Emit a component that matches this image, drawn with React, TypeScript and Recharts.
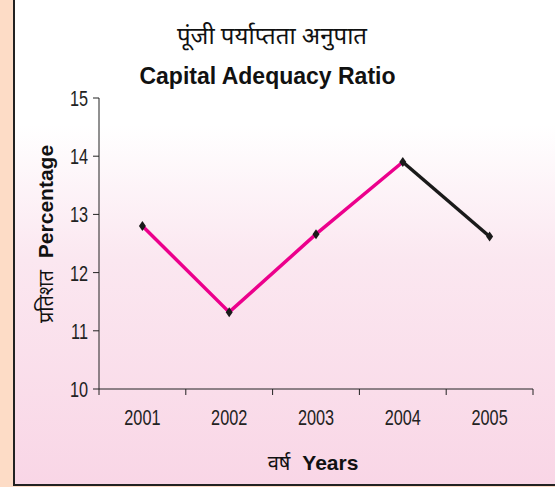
import React from 'react';
import { LineChart, Line, XAxis, YAxis } from 'recharts';

const years = ['2001', '2002', '2003', '2004', '2005'];
const ratioValues = [12.8, 11.32, 12.66, 13.9, 12.62];
const yTicks = [10, 11, 12, 13, 14, 15];
const titleHindi = 'पूंजी पर्याप्तता अनुपात';
const titleEnglish = 'Capital Adequacy Ratio';

// pink segment covers 2001-2004, black segment 2004-2005
const data = years.map((y, i) => ({
  pos: i + 0.5,
  year: y,
  pink: i <= 3 ? ratioValues[i] : null,
  black: i >= 3 ? ratioValues[i] : null,
  val: ratioValues[i],
}));

const boundaryTicks = [0, 1, 2, 3, 4, 5];
const centerTicks = years.map((_, i) => i + 0.5);

const FONT = '"Liberation Sans", Arial, sans-serif';
const DEVA = '"Noto Sans Devanagari", "Noto Sans", sans-serif';

const Diamond = (props: any) => {
  const { cx, cy } = props;
  if (cx == null || cy == null || props.value == null) return null;
  return (
    <path
      d={`M${cx},${cy - 5} L${cx + 3.5},${cy} L${cx},${cy + 5} L${cx - 3.5},${cy} Z`}
      fill="#1a1a1a"
    />
  );
};

const NarrowTick = (props: any) => {
  const { x, y, payload, textAnchor, label } = props;
  const text = label ? label(payload.value) : String(payload.value);
  return (
    <g transform={`translate(${x},${y})`}>
      <text
        transform="scale(0.74,1)"
        textAnchor={textAnchor}
        dy="0.36em"
        fill="#222"
        fontSize={22}
        fontFamily={FONT}
      >
        {text}
      </text>
    </g>
  );
};

export default function App() {
  return (
    <div
      style={{
        position: 'absolute',
        left: 0,
        top: 0,
        width: 555,
        height: 487,
        background: '#fddcc6',
        overflow: 'hidden',
      }}
    >
      <div
        style={{
          position: 'absolute',
          left: 13,
          top: 0,
          width: 542,
          height: 486,
          borderLeft: '2px solid #222',
          borderBottom: '2px solid #222',
          boxSizing: 'border-box',
          background: 'linear-gradient(to bottom, #ffffff 0px, #ffffff 125px, #fbe7f0 260px, #f9d6e6 484px)',
        }}
      />
      <div
        style={{
          position: 'absolute',
          left: 0,
          width: 544,
          top: 23,
          textAlign: 'center',
          fontFamily: DEVA,
          fontSize: 24,
          color: '#111',
          lineHeight: '30px',
        }}
      >
        {titleHindi}
      </div>
      <div
        style={{
          position: 'absolute',
          left: 0,
          width: 535,
          top: 62,
          textAlign: 'center',
          fontFamily: FONT,
          fontWeight: 'bold',
          fontSize: 23,
          color: '#111',
          lineHeight: '28px',
        }}
      >
        {titleEnglish}
      </div>
      <div
        style={{
          position: 'absolute',
          left: 47,
          top: 234,
          transform: 'translate(-50%, -50%) rotate(-90deg)',
          whiteSpace: 'nowrap',
          color: '#111',
          lineHeight: '26px',
        }}
      >
        <span style={{ fontFamily: DEVA, fontSize: 20 }}>प्रतिशत</span>
        <span style={{ fontFamily: FONT, fontWeight: 'bold', fontSize: 21, marginLeft: 12 }}>Percentage</span>
      </div>
      <div
        style={{
          position: 'absolute',
          left: 313,
          top: 464,
          transform: 'translate(-50%, -50%)',
          whiteSpace: 'nowrap',
          color: '#111',
          lineHeight: '26px',
        }}
      >
        <span style={{ fontFamily: DEVA, fontSize: 20 }}>वर्ष</span>
        <span style={{ fontFamily: FONT, fontWeight: 'bold', fontSize: 21, marginLeft: 12 }}>Years</span>
      </div>
      <div style={{ position: 'absolute', left: 0, top: 0 }}>
        <LineChart
          width={555}
          height={487}
          data={data}
          margin={{ top: 98, right: 22, bottom: 57, left: 39 }}
        >
          <XAxis
            xAxisId="b"
            dataKey="pos"
            type="number"
            domain={[0, 5]}
            ticks={boundaryTicks}
            tickFormatter={() => ''}
            stroke="#222"
            tickSize={6}
            height={1}
            allowDataOverflow
          />
          <XAxis
            xAxisId="c"
            dataKey="pos"
            type="number"
            domain={[0, 5]}
            ticks={centerTicks}
            axisLine={false}
            tickLine={false}
            tick={<NarrowTick label={(v: number) => years[Math.floor(v)]} />}
            tickMargin={21}
            height={40}
            allowDataOverflow
          />
          <YAxis
            domain={[10, 15]}
            ticks={yTicks}
            stroke="#222"
            tickSize={6}
            width={60}
            tick={<NarrowTick />}
            tickMargin={5}
          />
          <Line
            xAxisId="b"
            dataKey="pink"
            stroke="#ec008c"
            strokeWidth={3.5}
            dot={false}
            activeDot={false}
            isAnimationActive={false}
            connectNulls={false}
          />
          <Line
            xAxisId="b"
            dataKey="black"
            stroke="#1a1a1a"
            strokeWidth={3.5}
            dot={false}
            activeDot={false}
            isAnimationActive={false}
            connectNulls={false}
          />
          <Line
            xAxisId="b"
            dataKey="val"
            stroke="none"
            dot={<Diamond />}
            activeDot={false}
            isAnimationActive={false}
          />
        </LineChart>
      </div>
    </div>
  );
}
